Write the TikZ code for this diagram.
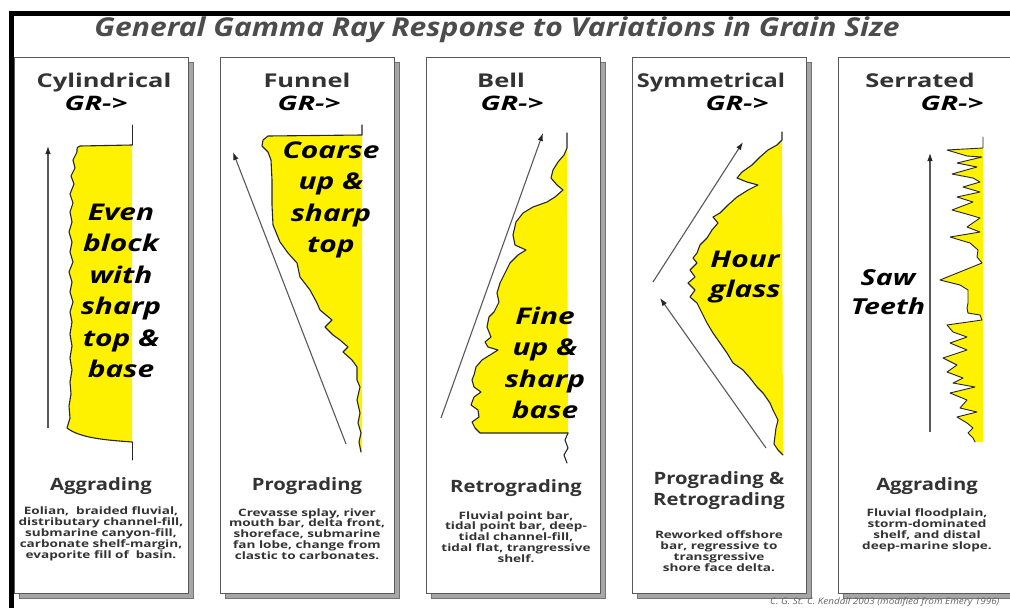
\documentclass[tikz,border=0pt]{standalone}
\usepackage{fontspec}
\setmainfont{Open Sans}
\usetikzlibrary{arrows.meta}
\begin{document}
\begin{tikzpicture}[x=1pt,y=-1pt,
  panel/.style={draw=black!65, line width=1pt, fill=white, minimum width=174pt, minimum height=536pt, anchor=north west, inner sep=0pt},
  shadowbox/.style={draw=black!55, fill=black!35, line width=0.8pt, minimum width=174pt, minimum height=536pt, anchor=north west, inner sep=0pt},
  yel/.style={fill=yellow},
  curve/.style={draw=black!85, line width=1.1pt, line join=round, line cap=round},
  arr/.style={draw=black!65, line width=1.1pt, -{Latex[length=8pt,width=5.5pt,color=black!85]}},
  ttl/.style={font=\fontsize{26}{30}\selectfont\bfseries\itshape, text=black!70, xscale=1.155, inner sep=0pt},
  head/.style={font=\fontsize{19}{22}\selectfont\bfseries, text=black!80, xscale=1.34, inner sep=0pt, anchor=base},
  gr/.style={font=\fontsize{20}{22}\selectfont\bfseries\itshape, text=black, xscale=1.45, inner sep=0pt, anchor=base},
  big/.style={font=\fontsize{23}{31.5}\selectfont\bfseries\itshape, text=black, align=center, xscale=1.3, inner sep=0pt},
  bhead/.style={font=\fontsize{17}{21}\selectfont\bfseries, text=black!80, align=center, xscale=1.19, inner sep=0pt},
  desc/.style={font=\fontsize{10.2}{10.9}\selectfont\bfseries, text=black!80, align=center, xscale=1.33, inner sep=0pt},
  credit/.style={font=\fontsize{9}{10}\selectfont\itshape, text=black!60, xscale=1.1, inner sep=0pt, anchor=base west}
]
\useasboundingbox (0,0) rectangle (1010,608);
\fill[white] (0,0) rectangle (1010,608);
% outer frame
\fill[black] (9,11) rectangle (1012,16);
\fill[black] (9,11) rectangle (14,610);

% title
\node[ttl] (title) at (497,30) {General Gamma Ray Response to Variations in Grain Size};

% panels with shadows
\foreach \i in {0,...,4}{
  \node[shadowbox] (s\i) at ({14+206*\i+5},62) {};
  \node[panel] (p\i) at ({14+206*\i},57) {};
}

% ---------- panel 1: cylindrical
\def\cylA{(132,145) -- (80,146) .. controls (77,147) .. (77,152) -- (73,160) -- (75,168) -- (71,176) -- (74,184) -- (70,194) -- (73,203) -- (70,212) -- (72,222) -- (69,232) -- (72,242) -- (70,252) -- (73,262) -- (69,272) -- (72,282) -- (70,292) -- (73,302) -- (70,312) -- (72,322) -- (70,334) -- (72,346) -- (70,358) -- (72,370) -- (70,382) -- (71,394) -- (69,406) -- (70,418) -- (67,428) .. controls (80,438) and (105,440) .. (132,442)}
\fill[yel] \cylA -- cycle;
\draw[curve] \cylA;
\draw[curve, line width=0.9pt] (132,125) -- (132,145);
\draw[curve, line width=0.9pt] (132,442) -- (132,460);
\coordinate (a1s) at (48,428);
\coordinate (a1e) at (48,146);
\draw[arr] (a1s) -- (a1e);

% ---------- panel 2: funnel
\def\funA{(362,135) -- (268,136) -- (263,140) -- (262,146) -- (268,152) -- (271,160) -- (272,180) -- (272,205) -- (273,225) -- (280,242) -- (288,253) -- (297,263) -- (300,277) -- (310,290) -- (317,303) -- (320,310) -- (332,320) -- (325,327) -- (333,335) -- (340,340) -- (348,347) -- (343,352) -- (352,360) -- (357,367) -- (357,380) -- (360,387) -- (357,400) -- (360,413) -- (358,423) -- (361,433) -- (359,442) -- (361,452)}
\fill[yel] \funA -- (362,452) -- cycle;
\draw[curve] (362,125) -- \funA;
\coordinate (a2s) at (346,444);
\coordinate (a2e) at (233,152);
\draw[arr] (a2s) -- (a2e);

% ---------- panel 3: bell
\def\belA{(567,148) -- (564,155) -- (558,162) -- (553,170) -- (551,178) -- (557,185) -- (563,190) -- (555,197) -- (547,202) -- (533,207) -- (523,213) -- (516,222) -- (513,235) -- (515,245) -- (526,250) -- (518,255) -- (510,263) -- (505,273) -- (500,283) -- (497,293) -- (499,302) -- (494,312) -- (489,317) -- (487,327) -- (491,337) -- (485,342) -- (488,347) -- (498,350) -- (490,355) -- (482,360) -- (476,367) -- (474,375) -- (472,380) -- (474,387) -- (481,392) -- (474,397) -- (471,405) -- (478,410) -- (479,417) -- (472,422) -- (475,428) -- (480,433) -- (568,433)}
\fill[yel] \belA -- cycle;
\draw[curve] (567,133) -- \belA;
\draw[curve] (568,433) -- (565,440) -- (568,448) -- (564,455) -- (567,463);
\coordinate (a3s) at (441,418);
\coordinate (a3e) at (543,133);
\draw[arr] (a3s) -- (a3e);

% ---------- panel 4: symmetrical
\def\symA{(782,140) -- (777,145) -- (768,150) -- (760,157) -- (752,165) -- (742,172) -- (737,178) -- (747,182) -- (758,185) -- (748,190) -- (737,197) -- (728,205) -- (720,213) -- (713,217) -- (718,223) -- (712,230) -- (707,238) -- (700,245) -- (697,253) -- (693,258) -- (697,263) -- (690,270) -- (695,277) -- (688,283) -- (695,290) -- (690,297) -- (697,303) -- (702,313) -- (707,323) -- (713,333) -- (720,343) -- (727,353) -- (733,363) -- (743,370) -- (750,378) -- (757,387) -- (763,393) -- (770,403) -- (773,410) -- (778,420) -- (776,428) -- (775,436) -- (774,444) -- (778,450) -- (783,455)}
\fill[yel] \symA -- cycle;
\draw[curve] (782,132) -- \symA;
\coordinate (a4s) at (653,282);
\coordinate (a4e) at (743,142);
\draw[arr] (a4s) -- (a4e);
\coordinate (a5s) at (766,448);
\coordinate (a5e) at (660,298);
\draw[arr] (a5s) -- (a5e);

% ---------- panel 5: serrated
\def\serA{(983,148) -- (947,150) -- (967,156) -- (982,157) -- (957,163) -- (977,167) -- (952,174) -- (973,178) -- (980,182) -- (963,187) -- (980,192) -- (957,197) -- (973,202) -- (952,210) -- (970,215) -- (980,218) -- (967,227) -- (980,232) -- (950,237) -- (970,243) -- (978,250) -- (977,257) -- (982,263) -- (940,280) -- (960,285) -- (968,290) -- (968,303) -- (967,308) -- (968,313) -- (980,315) -- (982,320) -- (947,325) -- (953,332) -- (967,337) -- (950,343) -- (967,350) -- (943,358) -- (957,365) -- (947,372) -- (963,378) -- (953,383) -- (975,387) -- (950,393) -- (967,400) -- (960,408) -- (977,412) -- (957,417) -- (967,423) -- (973,428) -- (968,433) -- (973,438) -- (975,442)}
\fill[yel] \serA -- (983,442) -- cycle;
\draw[curve, line width=0.9pt] (983,137) -- \serA;
\coordinate (a6s) at (930,432);
\coordinate (a6e) at (930,153);
\draw[arr] (a6s) -- (a6e);

% ---------- headings
\node[head] (h1) at (104,87) {Cylindrical};
\node[gr] (g1) at (96,110) {GR->};
\node[head] (h2) at (307,87) {Funnel};
\node[gr] (g2) at (309,110) {GR->};
\node[head] (h3) at (501,87) {Bell};
\node[gr] (g3) at (512,110) {GR->};
\node[head, xscale=0.925] (h4) at (711,87) {Symmetrical};
\node[gr] (g4) at (737,110) {GR->};
\node[head] (h5) at (920,87) {Serrated};
\node[gr] (g5) at (952,110) {GR->};

% ---------- big labels
\node[big] (t1) at (121,291) {Even\\block\\with\\sharp\\top \&\\base};
\node[big] (t2) at (331,200) {Coarse\\up \&\\sharp\\top};
\node[big] (t3) at (545,363) {Fine\\up \&\\sharp\\base};
\node[big, font=\fontsize{23}{30}\selectfont\bfseries\itshape] (t4) at (745,277) {Hour\\glass};
\node[big, font=\fontsize{22}{29}\selectfont\bfseries\itshape] (t5) at (888,292) {Saw\\Teeth};

% ---------- bottom headings
\node[bhead, anchor=base] (b1) at (101,490) {Aggrading};
\node[bhead, anchor=base] (b2) at (307,490) {Prograding};
\node[bhead, anchor=base] (b3) at (516,492) {Retrograding};
\node[bhead] (b4) at (719,491) {Prograding \&\\Retrograding};
\node[bhead, anchor=base] (b5) at (927,490) {Aggrading};

% ---------- descriptions
\node[desc] (d1) at (101,534) {Eolian,\ \ braided fluvial,\\distributary channel-fill,\\submarine canyon-fill,\\carbonate shelf-margin,\\evaporite fill of\ \ basin.};
\node[desc] (d2) at (307,534) {Crevasse splay, river\\mouth bar, delta front,\\shoreface, submarine\\fan lobe, change from\\clastic to carbonates.};
\node[desc] (d3) at (516,537) {Fluvial point bar,\\tidal point bar, deep-\\tidal channel-fill,\\tidal flat, trangressive\\shelf.};
\node[desc] (d4) at (719,551) {Reworked offshore\\bar, regressive to\\transgressive\\shore face delta.};
\node[desc] (d5) at (927,530) {Fluvial floodplain,\\storm-dominated\\shelf, and distal\\deep-marine slope.};

% ---------- credit
\node[credit] (cr) at (770,604) {C. G. St. C. Kendall 2003 (modified from Emery 1996)};
\end{tikzpicture}
\end{document}
